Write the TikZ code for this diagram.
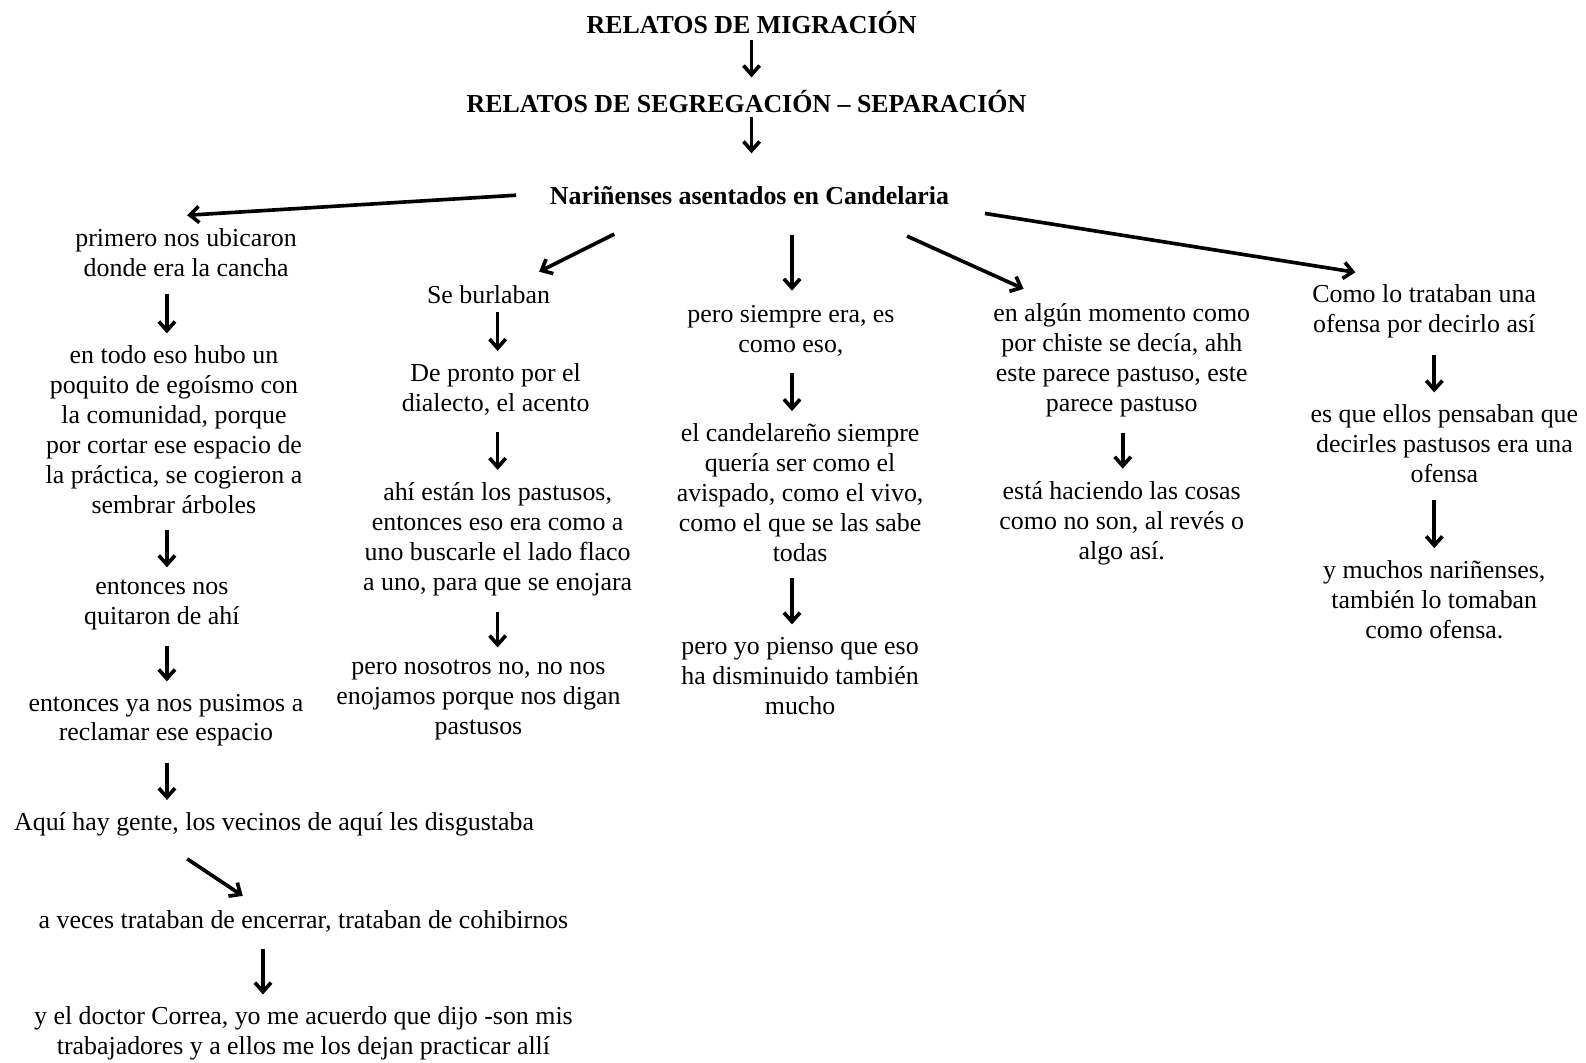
\documentclass[tikz,border=0pt]{standalone}
\usepackage{fontspec}
\setmainfont{Liberation Serif}
\usetikzlibrary{arrows.meta}

\begin{document}
\begin{tikzpicture}[
  x=0.5pt, y=-0.5pt,
  every node/.style={align=center, inner sep=0pt, font=\fontsize{12.8pt}{14.8pt}\selectfont},
  heading/.style={font=\fontsize{12.8pt}{14.8pt}\selectfont\bfseries},
  arrow/.style={-{Straight Barb[length=4.5pt, width=8pt]}, line width=1.8pt, shorten <=8pt, shorten >=6pt}
]
\useasboundingbox (0,0) rectangle (1568,1050);

% Headings
\node[heading] (migracion) at (743,22) {RELATOS DE MIGRACIÓN};
\node[heading] (segregacion) at (738,100) {RELATOS DE SEGREGACIÓN – SEPARACIÓN};
\node[heading] (narinenses) at (741,193) {Nariñenses asentados en Candelaria};

% Column lines
\coordinate (colA) at (165,0);
\coordinate (colB) at (492,0);
\coordinate (colC) at (783,0);
\coordinate (colD) at (1110,0);
\coordinate (colE) at (1418,0);
\coordinate (colT) at (743,0);

% Cancha
\node (cancha1) at (184,250) {primero nos ubicaron\\donde era la cancha};
\node (cancha2) at (172,425) {en todo eso hubo un\\poquito de egoísmo con\\la comunidad, porque\\por cortar ese espacio de\\la práctica, se cogieron a\\sembrar árboles};
\node (cancha3) at (160,598) {entonces nos\\quitaron de ahí};
\node (cancha4) at (164,712) {entonces ya nos pusimos a\\reclamar ese espacio};
\node (cancha5) at (271,815) {Aquí hay gente, los vecinos de aquí les disgustaba};
\node (cancha6) at (300,911) {a veces trataban de encerrar, trataban de cohibirnos};
\node (cancha7) at (300,1022) {y el doctor Correa, yo me acuerdo que dijo -son mis\\trabajadores y a ellos me los dejan practicar allí};

% Burla
\node (burla1) at (483,291) {Se burlaban};
\node (burla2) at (490,385) {De pronto por el\\dialecto, el acento};
\node (burla3) at (492,533) {ahí están los pastusos,\\entonces eso era como a\\uno buscarle el lado flaco\\a uno, para que se enojara};
\node (burla4) at (473,692) {pero nosotros no, no nos\\enojamos porque nos digan\\pastusos};

% Candelareño
\node (vivo1) at (782,327) {pero siempre era, es\\como eso,};
\node (vivo2) at (791,487) {el candelareño siempre\\quería ser como el\\avispado, como el vivo,\\como el que se las sabe\\todas};
\node (vivo3) at (791,668) {pero yo pienso que eso\\ha disminuido también\\mucho};

% Chiste
\node (chiste1) at (1109,356) {en algún momento como\\por chiste se decía, ahh\\este parece pastuso, este\\parece pastuso};
\node (chiste2) at (1109,517) {está haciendo las cosas\\como no son, al revés o\\algo así.};

% Ofensa
\node (ofensa1) at (1408,308) {Como lo trataban una\\ofensa por decirlo así};
\node (ofensa2) at (1428,439) {es que ellos pensaban que\\decirles pastusos era una\\ofensa};
\node (ofensa3) at (1418,593) {y muchos nariñenses,\\también lo tomaban\\como ofensa.};

% Heading connections
\draw[arrow, shorten <=3pt] (migracion.south -| colT) -- (segregacion.north -| colT);
\draw[arrow, shorten <=2pt, shorten >=16pt] (segregacion.south -| colT) -- (narinenses.north -| colT);

% Branches
\draw[arrow, shorten <=0pt, shorten >=0pt] ([shift={(-33,0)}]narinenses.west) -- ([shift={(1,-13)}]cancha1.north);
\draw[arrow, shorten <=0pt, shorten >=0pt] ([shift={(64,29)}]narinenses.south west) -- ([shift={(50,-13)}]burla1.north);
\draw[arrow, shorten <=15pt, shorten >=7pt] (narinenses.south -| colC) -- (vivo1.north -| colC);
\draw[arrow, shorten <=0pt, shorten >=0pt] ([shift={(-42,31)}]narinenses.south east) -- ([shift={(-97,-14)}]chiste1.north);
\draw[arrow, shorten <=0pt, shorten >=0pt] ([shift={(35,18)}]narinenses.east) -- ([shift={(-68,-12)}]ofensa1.north);

% Column connections
\draw[arrow] (cancha1.south -| colA) -- (cancha2.north -| colA);
\draw[arrow] (cancha2.south -| colA) -- (cancha3.north -| colA);
\draw[arrow] (cancha3.south -| colA) -- (cancha4.north -| colA);
\draw[arrow] (cancha4.south -| colA) -- (cancha5.north -| colA);
\draw[arrow, shorten <=0pt, shorten >=0pt] ([shift={(-86,22)}]cancha5.south) -- ([shift={(-60,-14)}]cancha6.north);
\draw[arrow] ([xshift=-20pt]cancha6.south) -- ([xshift=-20pt]cancha7.north);

\draw[arrow, shorten <=4pt] (burla1.south -| colB) -- (burla2.north -| colB);
\draw[arrow] (burla2.south -| colB) -- (burla3.north -| colB);
\draw[arrow] (burla3.south -| colB) -- (burla4.north -| colB);

\draw[arrow] (vivo1.south -| colC) -- (vivo2.north -| colC);
\draw[arrow] (vivo2.south -| colC) -- (vivo3.north -| colC);

\draw[arrow] (chiste1.south -| colD) -- (chiste2.north -| colD);

\draw[arrow] (ofensa1.south -| colE) -- (ofensa2.north -| colE);
\draw[arrow] (ofensa2.south -| colE) -- (ofensa3.north -| colE);

\end{tikzpicture}
\end{document}
